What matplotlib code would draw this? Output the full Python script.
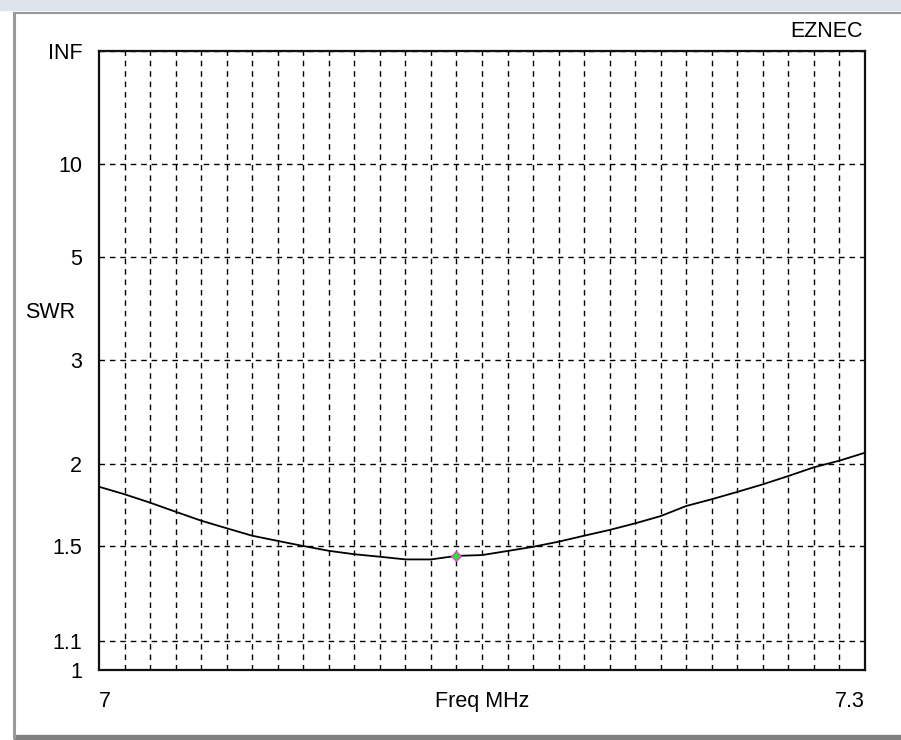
import numpy as np
import matplotlib
matplotlib.use("Agg")
import matplotlib.pyplot as plt
from matplotlib.patches import Rectangle
from matplotlib.lines import Line2D

# SWR sweep, 7.00 - 7.30 MHz in 10 kHz steps
freq = [7.00, 7.01, 7.02, 7.03, 7.04, 7.05, 7.06, 7.07, 7.08, 7.09, 7.10,
        7.11, 7.12, 7.13, 7.14, 7.15, 7.16, 7.17, 7.18, 7.19, 7.20,
        7.21, 7.22, 7.23, 7.24, 7.25, 7.26, 7.27, 7.28, 7.29, 7.30]
swr = [1.841, 1.793, 1.741, 1.687, 1.636, 1.594, 1.554, 1.527, 1.501, 1.477, 1.460,
       1.448, 1.435, 1.435, 1.452, 1.456, 1.476, 1.497, 1.523, 1.554, 1.585,
       1.621, 1.662, 1.721, 1.762, 1.808, 1.857, 1.913, 1.974, 2.022, 2.082]
marker_freq = [7.14]
marker_swr = [1.452]

swr_ticks = [1, 1.1, 1.5, 2, 3, 5, 10, 1e12]
swr_labels = ["1", "1.1", "1.5", "2", "3", "5", "10", "INF"]
freq_ticks = [7.0, 7.3]
freq_labels = ["7", "7.3"]


# EZNEC puts SWR on a reflection-coefficient scale
def to_rho(s):
    s = np.asarray(s, dtype=float)
    return (s - 1) / (s + 1)


def from_rho(r):
    r = np.clip(np.asarray(r, dtype=float), -0.999999, 0.999999999999)
    return (1 + r) / (1 - r)


plt.rcParams["font.family"] = ["Liberation Sans", "DejaVu Sans"]
fs = 15.5

fig = plt.figure(figsize=(9.01, 7.40), dpi=100)
ax = fig.add_axes([99 / 901, 1 - 670 / 740, 766 / 901, 619 / 740])

ax.plot(freq, swr, color="black", lw=1.3, zorder=3)
ax.plot(marker_freq, marker_swr, ls="none", marker="D", ms=5,
        mfc="#33dd33", mec="#ff33ff", mew=0.8, zorder=4)

ax.set_yscale("function", functions=(to_rho, from_rho))
ax.set_ylim(1, 1e12)
ax.set_xlim(7.0, 7.3)

ax.set_yticks(swr_ticks, swr_labels)
ax.yaxis.set_minor_locator(matplotlib.ticker.NullLocator())
ax.set_xticks(freq_ticks, freq_labels)
ax.set_xticks(np.arange(7.01, 7.295, 0.01), minor=True)
ax.tick_params(axis="both", which="both", length=0, labelsize=fs)
ax.tick_params(axis="y", pad=12)
ax.tick_params(axis="x", pad=15)
xl = ax.get_xticklabels()
xl[0].set_horizontalalignment("left")
xl[1].set_horizontalalignment("right")

ax.grid(True, which="major", axis="y", color="black", lw=1.0, ls=(0, (4, 3.5)))
ax.grid(True, which="minor", axis="x", color="black", lw=1.0, ls=(0, (4, 3.5)))

ax.set_xlabel("Freq MHz", fontsize=fs, va="baseline")
ax.xaxis.set_label_coords(0.5, -(707 - 670) / 619)
for sp in ax.spines.values():
    sp.set_linewidth(1.6)
    sp.set_color("#111111")

fig.text(25 / 901, 1 - 318 / 740, "SWR", fontsize=fs, ha="left", va="baseline")
fig.text(863 / 901, 1 - 37 / 740, "EZNEC", fontsize=fs, ha="right", va="baseline")

# window chrome around the plot
fig.patches.append(Rectangle((0, 1 - 10 / 740), 1, 10 / 740, transform=fig.transFigure,
                             color="#dfe4ec", zorder=0))
fig.lines.append(Line2D([15 / 901, 1], [1 - 12.5 / 740] * 2, transform=fig.transFigure,
                        color="#9a9a9a", lw=1.5))
fig.lines.append(Line2D([14.5 / 901] * 2, [3 / 740, 1 - 12.5 / 740], transform=fig.transFigure,
                        color="#9a9a9a", lw=2.2))
fig.patches.append(Rectangle((14 / 901, 0), 1, 5 / 740, transform=fig.transFigure,
                             color="#808080", zorder=0))

fig.savefig("out.png", dpi=100)
